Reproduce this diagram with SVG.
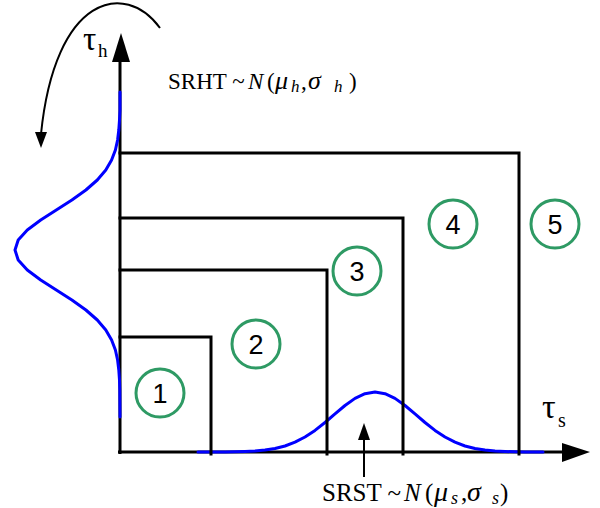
<svg xmlns="http://www.w3.org/2000/svg" width="600" height="508" viewBox="0 0 600 508">
<style>
.ax{stroke:#000;stroke-width:3;fill:none}
.rl{stroke:#000;stroke-width:3;fill:none;stroke-linecap:square}
.bl{stroke:#0000ff;stroke-width:3;fill:none;stroke-linejoin:round;stroke-linecap:round}
.cc{fill:none;stroke:#2e9a64;stroke-width:3}
.num{font-family:"Liberation Sans",Arial,sans-serif;font-size:27px;fill:#000;text-anchor:middle}
.ser{font-family:"Liberation Serif","Times New Roman",serif;fill:#000}
.it{font-style:italic}
</style>
<rect width="600" height="508" fill="#fff"/>
<g id="connectors">
  <line class="ax" x1="120" y1="454" x2="120" y2="58"/>
  <polygon points="112,62 130,62 121,33" fill="#000"/>
  <line class="ax" x1="118" y1="452" x2="565" y2="452"/>
  <polygon points="562,443 562,462 590,452" fill="#000"/>
  <polyline class="bl" points="120,92 120,110 119.5,120 118.8,130 117.6,140 115.4,150 111.6,160 105.8,170 97.3,180 85.9,190 71.9,200 56.3,210 40.7,220 27.3,230 18.2,240 15,250 18.2,260 27.3,270 40.7,280 56.3,290 71.9,300 85.9,310 97.3,320 105.8,330 111.6,340 115.4,350 117.6,360 118.8,370 119.5,380 119.8,390 120,417"/>
  <polyline class="bl" points="198,452 225,452 235,451.8 245,451.5 255,451 265,450.1 275,448.5 285,446 295,442.2 305,437 315,430.4 325,422.5 335,413.9 345,405.5 355,398.4 365,393.7 375,392 385,393.7 395,398.4 405,405.5 415,413.9 425,422.5 435,430.4 445,437 455,442.2 465,446 475,448.5 485,450.1 495,451 505,451.5 515,451.8 525,452 543,452"/>
  <polyline class="rl" points="120,337 211,337 211,454"/>
  <polyline class="rl" points="120,270 327,270 327,454"/>
  <polyline class="rl" points="120,218 403,218 403,454"/>
  <polyline class="rl" points="120,153 519,153 519,454"/>
  <path d="M160,28 C125,-20 55,-5 41,134" stroke="#000" stroke-width="2" fill="none"/>
  <polygon points="35,132 47,132 41,148" fill="#000"/>
  <line x1="364" y1="477" x2="364" y2="436" stroke="#000" stroke-width="2"/>
  <polygon points="358,440 370,440 364,423" fill="#000"/>
</g>
<g id="n1"><circle class="cc" cx="160" cy="393" r="24"/><text class="num" x="160" y="403">1</text></g>
<g id="n2"><circle class="cc" cx="256" cy="344" r="24"/><text class="num" x="256" y="354">2</text></g>
<g id="n3"><circle class="cc" cx="357" cy="271" r="24"/><text class="num" x="357" y="281">3</text></g>
<g id="n4"><circle class="cc" cx="453" cy="224" r="24"/><text class="num" x="453" y="234">4</text></g>
<g id="n5"><circle class="cc" cx="555" cy="224" r="24"/><text class="num" x="555" y="234">5</text></g>
<g id="labels">
  <text class="ser" x="83" y="50" font-size="33">τ</text>
  <text class="ser" x="98" y="57" font-size="19">h</text>
  <text class="ser" x="542" y="418" font-size="34">τ</text>
  <text class="ser" x="558" y="427" font-size="20">s</text>
  <text class="ser" font-size="23" y="89"><tspan x="168">SRHT ~</tspan><tspan class="it" x="248">N</tspan><tspan x="267">(</tspan><tspan class="it" x="275" font-size="26">μ</tspan><tspan class="it" x="291" y="92" font-size="17">h</tspan><tspan x="301" y="89">,</tspan><tspan class="it" x="308" font-size="26">σ</tspan><tspan class="it" x="334" y="92" font-size="17">h</tspan><tspan x="349" y="89">)</tspan></text>
  <text class="ser" font-size="25" y="501"><tspan x="322">SRST ~</tspan><tspan class="it" x="404">N</tspan><tspan x="425">(</tspan><tspan class="it" x="434" font-size="28">μ</tspan><tspan class="it" x="451" y="504" font-size="18">s</tspan><tspan x="461" y="501">,</tspan><tspan class="it" x="467" font-size="28">σ</tspan><tspan class="it" x="492" y="504" font-size="18">s</tspan><tspan x="500" y="501">)</tspan></text>
</g>
</svg>
